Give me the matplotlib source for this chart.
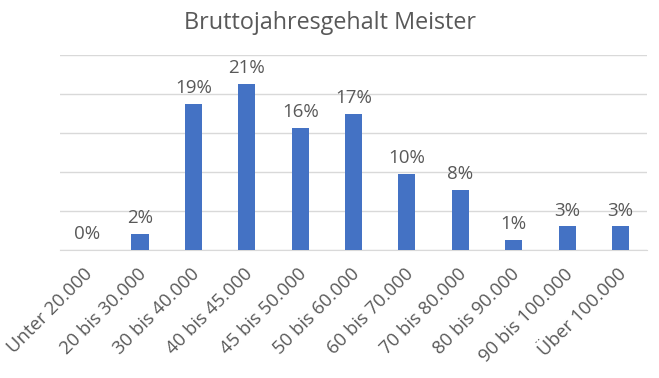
import matplotlib
matplotlib.use("Agg")
import matplotlib.pyplot as plt
from matplotlib.transforms import ScaledTranslation

categories = ["Unter 20.000", "20 bis 30.000", "30 bis 40.000", "40 bis 45.000",
              "45 bis 50.000", "50 bis 60.000", "60 bis 70.000", "70 bis 80.000",
              "80 bis 90.000", "90 bis 100.000", "Über 100.000"]
values = [0.0, 2.0, 18.7, 21.3, 15.7, 17.4, 9.7, 7.7, 1.3, 3.0, 3.0]
labels = ["0%", "2%", "19%", "21%", "16%", "17%", "10%", "8%", "1%", "3%", "3%"]

plt.rcParams['font.family'] = ['Open Sans', 'DejaVu Sans']
txt = '#595959'

fig = plt.figure(figsize=(6.59, 3.78), dpi=100)
ax = fig.add_axes([0.091, 0.339, 0.891, 0.515])
x = range(len(categories))
bars = ax.bar(x, values, width=0.32, color='#4472C4', zorder=3)
ax.set_xlim(-0.5, len(categories) - 0.5)
ax.set_ylim(0, 25)
ax.set_yticks([0, 5, 10, 15, 20, 25])
ax.yaxis.grid(True, color='#d9d9d9', linewidth=1, zorder=0)
ax.tick_params(axis='y', left=False, labelleft=False)
ax.tick_params(axis='x', length=0, pad=11)
for s in ['top', 'right', 'left']:
    ax.spines[s].set_visible(False)
ax.spines['bottom'].set_color('#d9d9d9')
ax.set_xticks(list(x))
ax.set_xticklabels(categories, rotation=45, ha='right', va='top',
                   rotation_mode='anchor', fontsize=13.3, color=txt)
off = ScaledTranslation(-3 / 100, 0, fig.dpi_scale_trans)
for t in ax.get_xticklabels():
    t.set_transform(t.get_transform() + off)
for xi, v, lab in zip(x, values, labels):
    ax.annotate(lab, (xi, v), xytext=(0, 5), textcoords='offset points',
                ha='center', va='bottom', fontsize=13.5, color=txt)
fig.text(0.5, 0.94, "Bruttojahresgehalt Meister", ha='center', va='center',
         fontsize=16.8, color=txt)
fig.savefig("out.png", dpi=100)
